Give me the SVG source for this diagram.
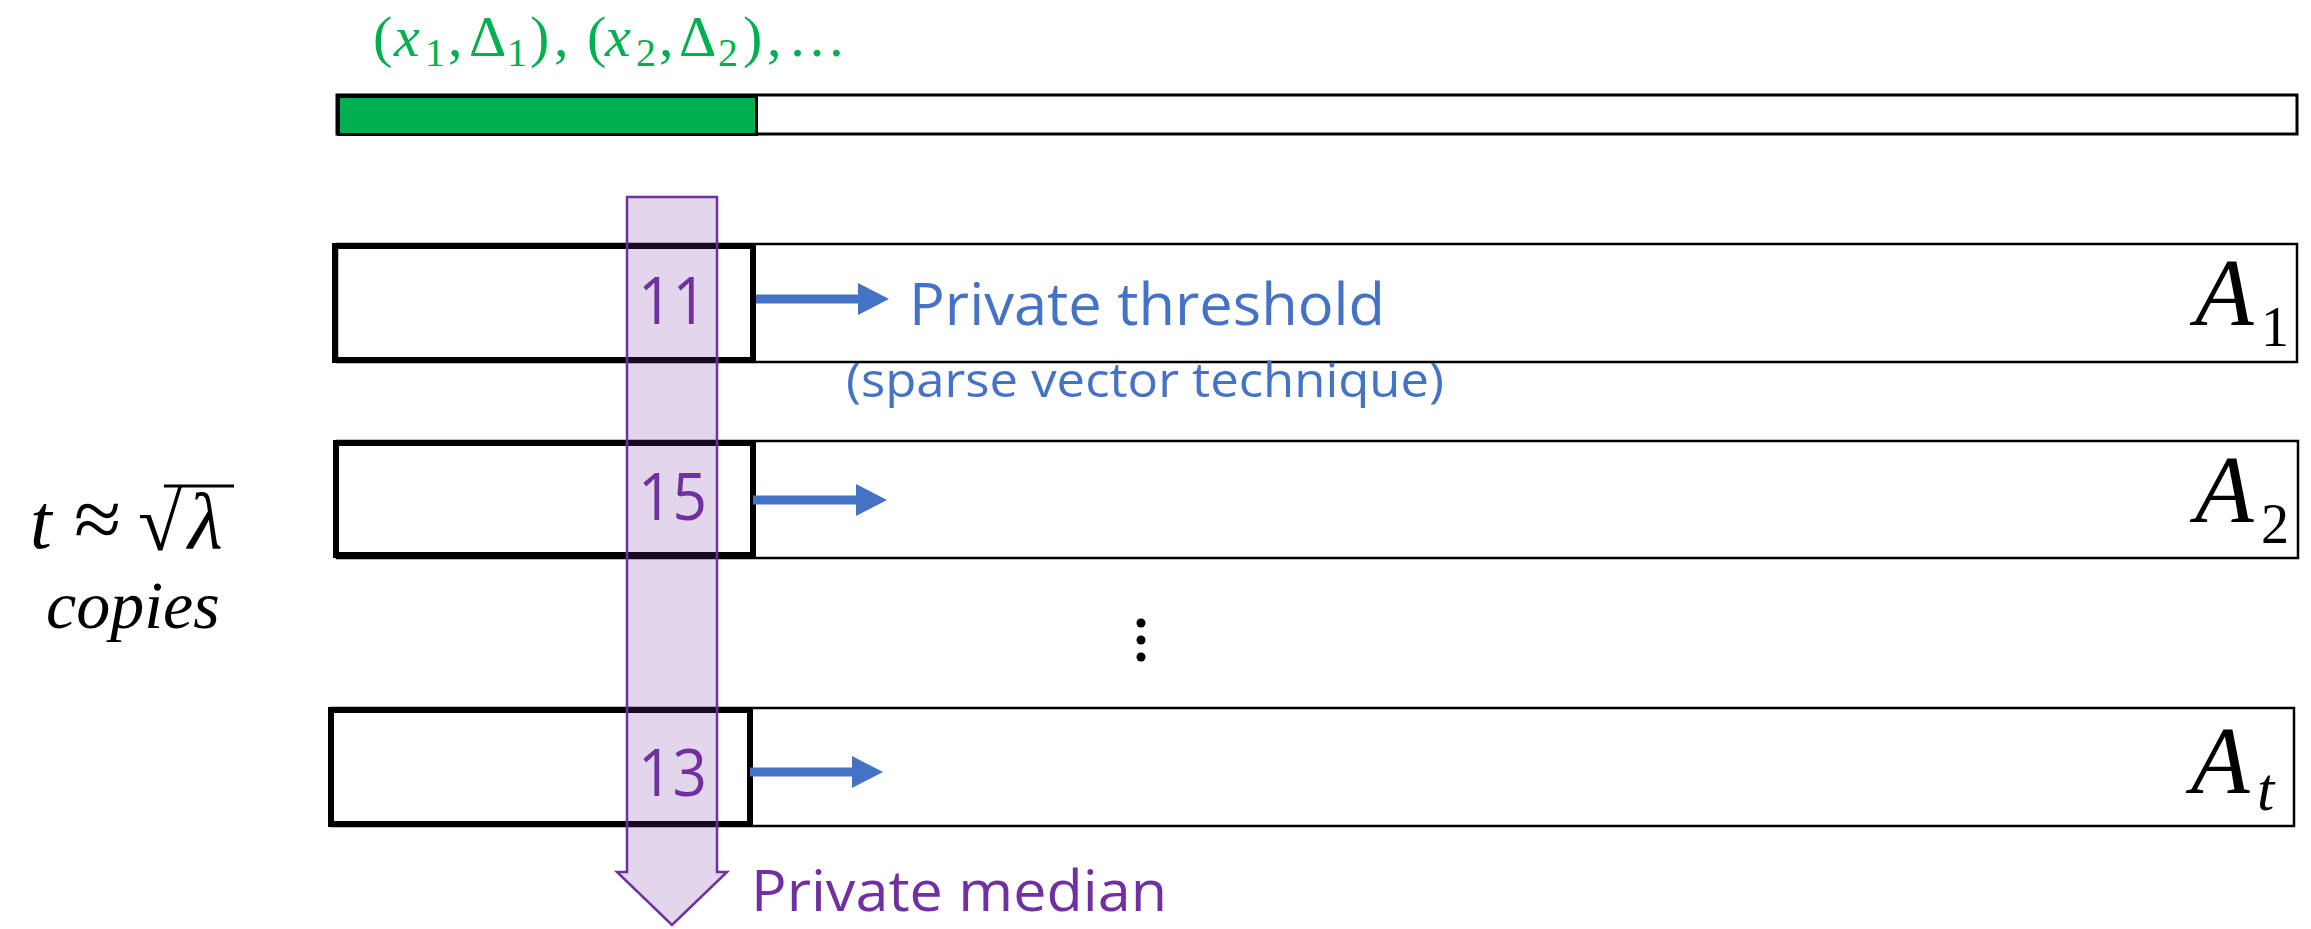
<svg xmlns="http://www.w3.org/2000/svg" width="2311" height="929" viewBox="0 0 2311 929">
<style>
.math{font-family:"Liberation Serif","DejaVu Serif",serif;}
.it{font-style:italic;}
.green{fill:#00B050;}
.thin{fill:#fff;stroke:#000;stroke-width:2.5;}
.thick{fill:none;stroke:#000;stroke-width:6;}
.num{font-family:"Open Sans","Liberation Sans",sans-serif;font-size:66px;fill:#7030A0;}
.blue{font-family:"Open Sans","Liberation Sans",sans-serif;fill:#4472C4;}
.conn{stroke:#4472C4;stroke-width:9;fill:none;}
.alabel{font-family:"Liberation Serif","DejaVu Serif",serif;fill:#000;}
</style>
<defs>
<marker id="ah" markerUnits="userSpaceOnUse" markerWidth="32" markerHeight="32" refX="0" refY="16" orient="auto">
<path d="M0,0 L31,16 L0,32 Z" fill="#4472C4"/>
</marker>
</defs>
<rect width="2311" height="929" fill="#fff"/>

<g id="stream-label">
<text class="math green" font-size="58" y="56">
<tspan x="373">(</tspan><tspan x="394" class="it">x</tspan><tspan x="425" y="66" font-size="40">1</tspan><tspan x="448" y="56">,</tspan><tspan x="469">Δ</tspan><tspan x="507" y="66" font-size="40">1</tspan><tspan x="530" y="56">)</tspan><tspan x="554">,</tspan><tspan x="587">(</tspan><tspan x="605" class="it">x</tspan><tspan x="636" y="66" font-size="40">2</tspan><tspan x="659" y="56">,</tspan><tspan x="679">Δ</tspan><tspan x="718" y="66" font-size="40">2</tspan><tspan x="743" y="56">)</tspan><tspan x="767">,</tspan><tspan x="788">…</tspan>
</text>
</g>

<g id="stream-bar">
<rect x="337" y="95" width="1960" height="39" fill="#fff" stroke="#000" stroke-width="3"/>
<rect x="338.5" y="96.5" width="418" height="38" fill="#00B050" stroke="#000" stroke-width="3"/>
</g>

<g id="copy-1">
<rect class="thin" x="337" y="244" width="1960" height="118"/>
<rect class="thick" x="335" y="246" width="418" height="114"/>
<text class="alabel it" font-size="96" x="2195" y="325">A</text>
<text class="alabel" font-size="56" x="2261" y="346">1</text>
</g>

<g id="copy-2">
<rect class="thin" x="337" y="441" width="1961" height="117"/>
<rect class="thick" x="336" y="443" width="417" height="112"/>
<text class="alabel it" font-size="96" x="2195" y="522">A</text>
<text class="alabel" font-size="56" x="2261" y="543">2</text>
</g>

<g id="ellipsis">
<circle cx="1141" cy="623" r="4.5" fill="#000"/>
<circle cx="1141" cy="640" r="4.5" fill="#000"/>
<circle cx="1141" cy="657" r="4.5" fill="#000"/>
</g>

<g id="copy-t">
<rect class="thin" x="331" y="708" width="1963" height="118"/>
<rect class="thick" x="331" y="710" width="419" height="114"/>
<text class="alabel it" font-size="96" x="2191" y="793">A</text>
<text class="alabel it" font-size="62" x="2257" y="810">t</text>
</g>

<g id="copies-label">
<text class="math it" font-size="78" x="30" y="548">t</text>
<text class="math" font-size="86" x="74" y="548">≈</text>
<text class="math" font-size="80" x="138" y="550">√</text>
<line x1="164" y1="486" x2="234" y2="486" stroke="#000" stroke-width="3"/>
<text class="math it" font-size="80" x="188" y="548">λ</text>
<text class="math it" font-size="68" x="46" y="628">copies</text>
</g>

<g id="median-arrow">
<path d="M627,197 H717 V872 H727 L672,925 L617,872 H627 Z" fill="#7030A0" fill-opacity="0.2" stroke="#7030A0" stroke-width="2.5" stroke-linejoin="miter"/>
<text class="num" x="638" y="324" textLength="69" lengthAdjust="spacingAndGlyphs">11</text>
<text class="num" x="638" y="520" textLength="69" lengthAdjust="spacingAndGlyphs">15</text>
<text class="num" x="638" y="796" textLength="69" lengthAdjust="spacingAndGlyphs">13</text>
<text x="751" y="911" font-family="'Open Sans','Liberation Sans',sans-serif" font-size="57" fill="#7030A0" textLength="416" lengthAdjust="spacingAndGlyphs">Private median</text>
</g>

<g id="threshold-label">
<text class="blue" x="909" y="325" font-size="59" textLength="476" lengthAdjust="spacingAndGlyphs">Private threshold</text>
<text class="blue" x="846" y="397" font-size="48" textLength="598" lengthAdjust="spacingAndGlyphs">(sparse vector technique)</text>
</g>

<g id="connectors">
<line class="conn" x1="756" y1="299" x2="858" y2="299" marker-end="url(#ah)"/>
<line class="conn" x1="753" y1="500" x2="856" y2="500" marker-end="url(#ah)"/>
<line class="conn" x1="750" y1="772" x2="852" y2="772" marker-end="url(#ah)"/>
</g>
</svg>
